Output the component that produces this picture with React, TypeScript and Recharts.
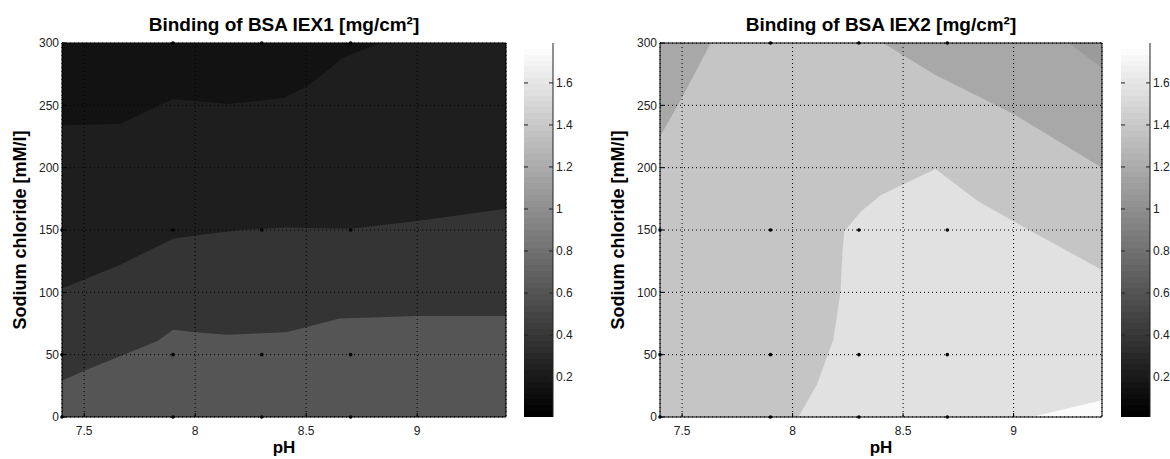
import React from 'react';
import { ComposedChart, Area, Scatter, XAxis, YAxis, CartesianGrid } from 'recharts';

const phTicks = [7.5, 8, 8.5, 9];
const saltTicks = [0, 50, 100, 150, 200, 250, 300];
const colorTicks = [0.2, 0.4, 0.6, 0.8, 1, 1.2, 1.4, 1.6];
const colorRange = [0.01, 1.79];
// colour bar column: spans the full value range
const colorSpan = [{ pos: 0, value: 1.79 }, { pos: 1, value: 1.79 }];

// measured grid points (black markers)
const samplePoints = [
  { ph: 7.4, nacl: 0 }, { ph: 7.4, nacl: 50 }, { ph: 7.4, nacl: 150 },
  { ph: 7.9, nacl: 0 }, { ph: 7.9, nacl: 50 }, { ph: 7.9, nacl: 150 }, { ph: 7.9, nacl: 300 },
  { ph: 8.3, nacl: 0 }, { ph: 8.3, nacl: 50 }, { ph: 8.3, nacl: 150 }, { ph: 8.3, nacl: 300 },
  { ph: 8.7, nacl: 0 }, { ph: 8.7, nacl: 50 }, { ph: 8.7, nacl: 150 }, { ph: 8.7, nacl: 300 },
];

// IEX1 contour boundaries (region below each line gets the next lighter level)
const iex1Full = [{ ph: 7.4, nacl: 300 }, { ph: 9.4, nacl: 300 }];
const iex1Edge1 = [
  { ph: 7.4, nacl: 234 }, { ph: 7.66, nacl: 235 }, { ph: 7.9, nacl: 255 }, { ph: 8.15, nacl: 251 },
  { ph: 8.4, nacl: 256 }, { ph: 8.51, nacl: 266 }, { ph: 8.61, nacl: 280 }, { ph: 8.66, nacl: 288 },
  { ph: 8.82, nacl: 299 }, { ph: 8.87, nacl: 300 }, { ph: 9.4, nacl: 300 },
];
const iex1Edge2 = [
  { ph: 7.4, nacl: 103 }, { ph: 7.66, nacl: 122 }, { ph: 7.9, nacl: 143 }, { ph: 8.02, nacl: 146 },
  { ph: 8.2, nacl: 150 }, { ph: 8.41, nacl: 152 }, { ph: 8.7, nacl: 151 }, { ph: 8.99, nacl: 157 },
  { ph: 9.4, nacl: 167 },
];
const iex1Edge3 = [
  { ph: 7.4, nacl: 29 }, { ph: 7.5, nacl: 37 }, { ph: 7.83, nacl: 61 }, { ph: 7.9, nacl: 70 },
  { ph: 8.0, nacl: 68 }, { ph: 8.14, nacl: 66 }, { ph: 8.41, nacl: 68 }, { ph: 8.65, nacl: 79 },
  { ph: 8.99, nacl: 81 }, { ph: 9.4, nacl: 81 },
];

// IEX2 contour regions
const iex2Full = [{ ph: 7.4, nacl: 300 }, { ph: 9.4, nacl: 300 }];
const iex2TopLeft = [{ ph: 7.4, nacl: 225 }, { ph: 7.49, nacl: 253 }, { ph: 7.63, nacl: 300 }];
const iex2TopRight = [{ ph: 8.41, nacl: 300 }, { ph: 8.64, nacl: 275 }, { ph: 9.0, nacl: 243 }, { ph: 9.4, nacl: 200 }];
const iex2Corner = [{ ph: 9.25, nacl: 300 }, { ph: 9.4, nacl: 280 }];
const iex2Peak = [
  { ph: 8.026, nacl: 0 }, { ph: 8.11, nacl: 26 }, { ph: 8.184, nacl: 62 }, { ph: 8.2, nacl: 80 },
  { ph: 8.217, nacl: 101 }, { ph: 8.226, nacl: 133 }, { ph: 8.234, nacl: 149 }, { ph: 8.31, nacl: 165 },
  { ph: 8.4, nacl: 178 }, { ph: 8.646, nacl: 199 }, { ph: 8.84, nacl: 173 }, { ph: 9.08, nacl: 149 },
  { ph: 9.4, nacl: 118 },
];
const iex2Max = [{ ph: 9.08, nacl: 0 }, { ph: 9.4, nacl: 13.5 }];

const FONT = '"Liberation Sans", Arial, Helvetica, sans-serif';
const TICK_LEN = 4;
const GAP_X = 9;
const GAP_Y = 3;

const panels = [
  {
    left: 0,
    plotWidth: 444,
    title: 'Binding of BSA IEX1 [mg/cm²]',
    layers: [
      { data: iex1Full, base: 0, color: '#121212' },
      { data: iex1Edge1, base: 0, color: '#1e1e1e' },
      { data: iex1Edge2, base: 0, color: '#343434' },
      { data: iex1Edge3, base: 0, color: '#555555' },
    ],
  },
  {
    left: 598,
    plotWidth: 442,
    title: 'Binding of BSA IEX2 [mg/cm²]',
    layers: [
      { data: iex2Full, base: 0, color: '#c5c5c5' },
      { data: iex2TopLeft, base: 300, color: '#a8a8a8' },
      { data: iex2TopRight, base: 300, color: '#a8a8a8' },
      { data: iex2Corner, base: 300, color: '#9b9b9b' },
      { data: iex2Peak, base: 0, color: '#e1e1e1' },
      { data: iex2Max, base: 0, color: '#fbfbfb' },
    ],
  },
];

const tickText = { fontFamily: FONT, fontSize: 12, fill: '#222' };

const BottomTick = ({ x, y, payload }: any) => (
  <g>
    <line x1={x} x2={x} y1={y - GAP_X} y2={y - GAP_X - TICK_LEN} stroke="#000" />
    <text x={x} y={y} dy="0.71em" textAnchor="middle" {...tickText}>{payload.value}</text>
  </g>
);
const TopTick = ({ x, y }: any) => (
  <line x1={x} x2={x} y1={y + GAP_X} y2={y + GAP_X + TICK_LEN} stroke="#000" />
);
const LeftTick = ({ x, y, payload }: any) => (
  <g>
    <line x1={x + GAP_Y} x2={x + GAP_Y + TICK_LEN} y1={y} y2={y} stroke="#000" />
    <text x={x} y={y} dy="0.355em" textAnchor="end" {...tickText}>{payload.value}</text>
  </g>
);
const RightTick = ({ x, y }: any) => (
  <line x1={x - GAP_Y} x2={x - GAP_Y - TICK_LEN} y1={y} y2={y} stroke="#000" />
);

const BAR_W = 29;
const BarTick = ({ x, y, payload }: any) => {
  const edge = x - GAP_Y;
  return (
    <g>
      <line x1={edge} x2={edge - TICK_LEN} y1={y} y2={y} stroke="#222" />
      <line x1={edge - BAR_W} x2={edge - BAR_W + TICK_LEN} y1={y} y2={y} stroke="#222" />
      <text x={x} y={y} dy="0.355em" textAnchor="start" {...tickText}>{payload.value}</text>
    </g>
  );
};

const Dot = (p: any) => <circle cx={p.cx} cy={p.cy} r={1.8} fill="#000" />;

const ContourPanel = ({ panel }: any) => (
  <div style={{ position: 'absolute', left: panel.left, top: 0 }}>
    <ComposedChart width={62 + panel.plotWidth + 4} height={459} margin={{ top: 0, right: 0, bottom: 0, left: 0 }}>
      {panel.layers.map((l: any, i: number) => (
        <Area
          key={i}
          data={l.data}
          dataKey="nacl"
          type="linear"
          baseValue={l.base}
          fill={l.color}
          fillOpacity={1}
          stroke="none"
          dot={false}
          activeDot={false}
          isAnimationActive={false}
        />
      ))}
      <CartesianGrid stroke="#000" strokeDasharray="1 3" zIndex={450} />
      <XAxis type="number" dataKey="ph" domain={[7.4, 9.4]} ticks={phTicks} interval={0}
        height={42} tickSize={0} tickMargin={GAP_X} tickLine={false} tick={<BottomTick />} axisLine={{ stroke: '#000' }} />
      <XAxis xAxisId="top" orientation="top" type="number" domain={[7.4, 9.4]} ticks={phTicks} interval={0}
        height={43} tickSize={0} tickMargin={GAP_X} tickLine={false} tick={<TopTick />} axisLine={{ stroke: '#000' }} />
      <YAxis type="number" dataKey="nacl" domain={[0, 300]} ticks={saltTicks} interval={0}
        width={62} tickSize={0} tickMargin={GAP_Y} tickLine={false} tick={<LeftTick />} axisLine={{ stroke: '#000' }} />
      <YAxis yAxisId="right" orientation="right" type="number" domain={[0, 300]} ticks={saltTicks} interval={0}
        width={4} tickSize={0} tickMargin={GAP_Y} tickLine={false} tick={<RightTick />} axisLine={{ stroke: '#000' }} />
      <Scatter data={samplePoints} dataKey="nacl" shape={<Dot />} isAnimationActive={false} zIndex={700} />
    </ComposedChart>
  </div>
);

const rampStops = Array.from({ length: 64 }, (_, i) => i);
const grayOf = (i: number) => {
  const g = Math.round((i / 63) * 255);
  return `rgb(${g},${g},${g})`;
};

const ColorBar = ({ left }: { left: number }) => (
  <div style={{ position: 'absolute', left, top: 0 }}>
    <ComposedChart width={BAR_W + 20} height={459} data={colorSpan} margin={{ top: 43, right: 0, bottom: 42, left: 0 }}>
      <defs>
        <linearGradient id={`gray${left}`} x1="0" y1="1" x2="0" y2="0">
          {rampStops.map((i) => (
            <React.Fragment key={i}>
              <stop offset={`${(i / 64) * 100}%`} stopColor={grayOf(i)} />
              <stop offset={`${((i + 1) / 64) * 100}%`} stopColor={grayOf(i)} />
            </React.Fragment>
          ))}
        </linearGradient>
      </defs>
      <Area dataKey="value" type="linear" baseValue={colorRange[0]} fill={`url(#gray${left})`} fillOpacity={1}
        stroke="none" dot={false} activeDot={false} isAnimationActive={false} />
      <XAxis type="number" dataKey="pos" domain={[0, 1]} height={0} tick={false} tickLine={false}
        axisLine={{ stroke: '#222' }} />
      <XAxis xAxisId="top" orientation="top" type="number" domain={[0, 1]} height={0} tick={false} tickLine={false}
        axisLine={{ stroke: '#222' }} />
      <YAxis yAxisId="left" orientation="left" type="number" domain={colorRange} width={0} tick={false} tickLine={false}
        axisLine={{ stroke: '#222' }} />
      <YAxis orientation="right" type="number" domain={colorRange} ticks={colorTicks} interval={0}
        width={20} tickSize={0} tickMargin={GAP_Y} tickLine={false} axisLine={{ stroke: '#222' }} tick={<BarTick />} />
    </ComposedChart>
  </div>
);

const labelStyle = { fontFamily: FONT, fontWeight: 700, fill: '#000' } as const;

export default function App() {
  return (
    <div style={{ position: 'absolute', left: 0, top: 0, width: 1170, height: 459, background: '#fff', overflow: 'hidden' }}>
      {panels.map((p, i) => <ContourPanel key={i} panel={p} />)}
      <ColorBar left={524} />
      <ColorBar left={1121} />
      <svg width={1170} height={459} style={{ position: 'absolute', left: 0, top: 0, pointerEvents: 'none' }}>
        {panels.map((p, i) => {
          const cx = p.left + 62 + p.plotWidth / 2;
          const lx = p.left + 26;
          return (
            <g key={i}>
              <text x={cx} y={31} textAnchor="middle" fontSize={19} {...labelStyle}>{p.title}</text>
              <text x={cx} y={453} textAnchor="middle" fontSize={17} {...labelStyle}>pH</text>
              <text x={lx} y={230} textAnchor="middle" fontSize={18} transform={`rotate(-90, ${lx}, 230)`} {...labelStyle}>
                Sodium chloride [mM/l]
              </text>
            </g>
          );
        })}
      </svg>
    </div>
  );
}
